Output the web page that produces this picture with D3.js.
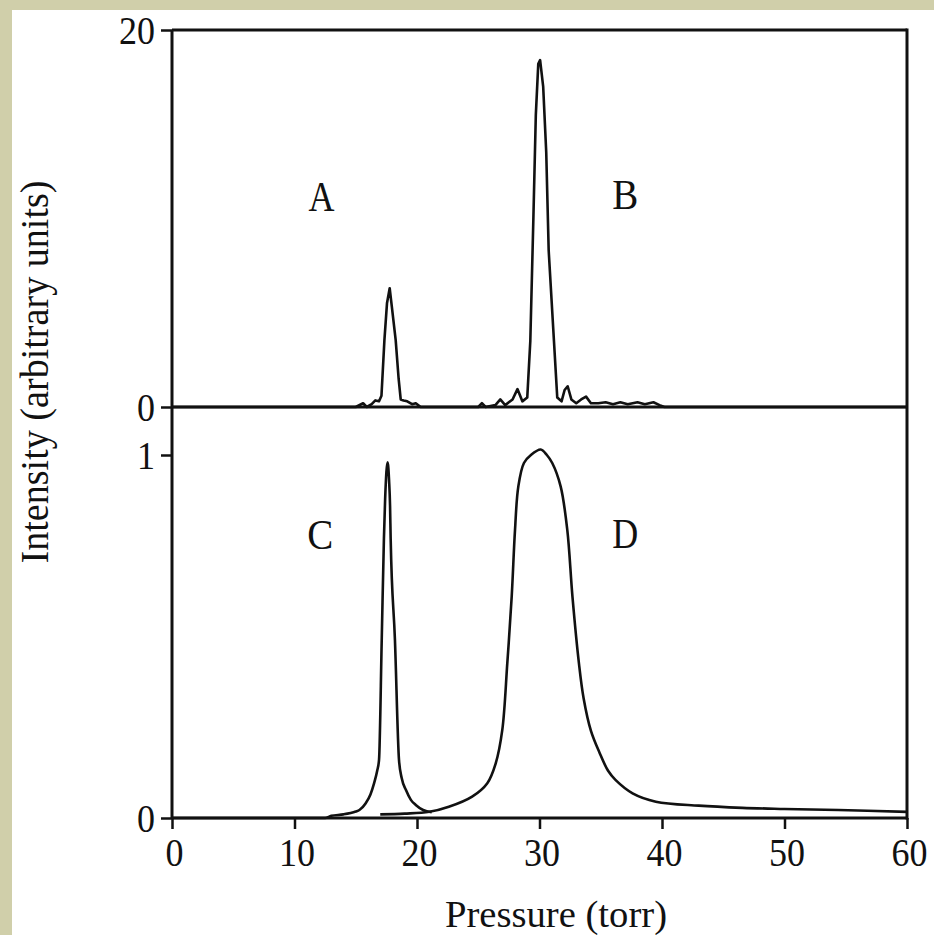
<!DOCTYPE html>
<html><head><meta charset="utf-8">
<script src="https://cdn.jsdelivr.net/npm/d3@7"></script>
<style>html,body{margin:0;padding:0;background:#d0cfaa;}svg{display:block;}</style>
</head><body>
<script>
// ---- data ----
const xTicks = [0, 10, 20, 30, 40, 50, 60];
const topTicks = [0, 20];
const bottomTicks = [0, 1];
const xTitle = "Pressure (torr)";
const yTitle = "Intensity (arbitrary units)";
const panelLabels = ["A", "B", "C", "D"];

// top panel trace (A at ~17.8 torr, B at ~30 torr)
const topPressure = [0, 15.0, 15.6, 15.9, 16.3, 16.6, 16.9, 17.1, 17.34, 17.55, 17.77, 17.95, 18.26, 18.5, 18.67, 18.9, 19.2, 19.6, 19.9, 20.3,
  25.0, 25.3, 25.6, 26.4, 26.8, 27.2, 27.8, 28.2, 28.6, 29.0, 29.25, 29.5, 29.7, 29.9, 30.05, 30.3, 30.55, 30.75, 31.18, 31.45,
  31.8, 32.05, 32.3, 32.6, 33.0, 33.4, 33.8, 34.2, 34.8, 35.4, 36.0, 36.6, 37.2, 38.0, 38.6, 39.3, 39.8, 40.2, 60];
const topIntensity = [0, 0, 0.2, 0, 0.15, 0.35, 0.3, 0.6, 3.55, 5.5, 6.3, 5.3, 3.55, 1.5, 0.4, 0.35, 0.3, 0.15, 0.2, 0,
  0, 0.2, 0, 0.1, 0.4, 0.1, 0.4, 0.95, 0.3, 0.5, 3.5, 10, 15.5, 18.2, 18.4, 17.0, 13.5, 8.3, 3.5, 0.5,
  0.3, 0.9, 1.1, 0.4, 0.2, 0.4, 0.55, 0.2, 0.2, 0.25, 0.15, 0.25, 0.15, 0.25, 0.15, 0.25, 0.1, 0, 0];

// bottom panel trace C (~17.6 torr)
const cPressure = [0, 12.5, 13.0, 14.0, 15.0, 15.3, 15.8, 16.2, 16.5, 16.75, 16.9, 17.12, 17.3, 17.4, 17.6, 17.72, 17.8, 17.85, 18.2, 18.53, 18.75, 19.1, 19.5, 19.9, 20.5, 21.2];
const cIntensity = [0, 0, 0.006, 0.01, 0.018, 0.022, 0.04, 0.065, 0.096, 0.13, 0.16, 0.49, 0.77, 0.88, 0.98, 0.93, 0.86, 0.77, 0.49, 0.16, 0.11, 0.077, 0.05, 0.036, 0.022, 0.016];

// bottom panel trace D (~30 torr)
const dPressure = [17.0, 19.0, 21.0, 22.6, 24.5, 25.74, 26.42, 26.96, 27.37, 27.73, 28.0, 28.27, 28.73, 29.3, 30.1, 30.6, 31.04, 31.73, 32.27, 32.69, 33.22, 33.6, 34.2, 34.9, 35.6, 36.2, 37.6, 39.5, 43.0, 46.56, 50.0, 54.4, 60.0];
const dIntensity = [0.01, 0.012, 0.017, 0.031, 0.059, 0.096, 0.15, 0.242, 0.426, 0.61, 0.793, 0.913, 0.978, 1.0, 1.015, 1.0, 0.978, 0.913, 0.793, 0.61, 0.426, 0.33, 0.24, 0.18, 0.13, 0.105, 0.068, 0.045, 0.034, 0.028, 0.025, 0.022, 0.017];

// ---- drawing ----
const W = 934, H = 935;
const svg = d3.select("body").append("svg").attr("width", W).attr("height", H);
svg.append("rect").attr("x", 0).attr("y", 0).attr("width", W).attr("height", H).attr("fill", "#d0cfaa");
svg.append("rect").attr("x", 12).attr("y", 10).attr("width", W - 12).attr("height", H - 10).attr("fill", "#ffffff");

const x = d3.scaleLinear().domain([0, 60]).range([172, 907]);
const yTop = d3.scaleLinear().domain([0, 20]).range([407, 30]);
const yBot = d3.scaleLinear().domain([0, 1]).range([818, 455]);

const font = "'Liberation Serif', 'Times New Roman', serif";
const ink = "#111";

// traces
const zip = (a, b) => a.map((v, i) => [v, b[i]]);
svg.append("path").datum(zip(topPressure, topIntensity))
  .attr("d", d3.line().x(d => x(d[0])).y(d => yTop(d[1])))
  .attr("fill", "none").attr("stroke", ink).attr("stroke-width", 2.6).attr("stroke-linejoin", "round");
svg.append("path").datum(zip(cPressure, cIntensity))
  .attr("d", d3.line().x(d => x(d[0])).y(d => yBot(d[1])).curve(d3.curveMonotoneX))
  .attr("fill", "none").attr("stroke", ink).attr("stroke-width", 2.6).attr("stroke-linejoin", "round");
svg.append("path").datum(zip(dPressure, dIntensity))
  .attr("d", d3.line().x(d => x(d[0])).y(d => yBot(d[1])).curve(d3.curveCatmullRom.alpha(0.5)))
  .attr("fill", "none").attr("stroke", ink).attr("stroke-width", 2.6).attr("stroke-linejoin", "round");

// frame
const frame = svg.append("g").attr("stroke", ink).attr("stroke-width", 3).attr("fill", "none");
frame.append("line").attr("x1", x(0)).attr("x2", x(0)).attr("y1", yTop(20)).attr("y2", yBot(0));
frame.append("line").attr("x1", x(60)).attr("x2", x(60)).attr("y1", yTop(20) - 1.5).attr("y2", yBot(0) + 1.5);
frame.append("line").attr("x1", x(0)).attr("x2", x(60)).attr("y1", yTop(20)).attr("y2", yTop(20));
frame.append("line").attr("x1", x(0)).attr("x2", x(60)).attr("y1", yTop(0)).attr("y2", yTop(0));
frame.append("line").attr("x1", x(0)).attr("x2", x(60)).attr("y1", yBot(0)).attr("y2", yBot(0));

// x axis
const xAxis = d3.axisBottom(x).tickValues(xTicks).tickSize(11).tickPadding(8).tickFormat(d3.format("d"));
const gx = svg.append("g").attr("transform", `translate(0,${yBot(0)})`).call(xAxis);
gx.select(".domain").remove();
gx.selectAll(".tick line").attr("stroke", ink).attr("stroke-width", 2.5);
gx.selectAll(".tick text").attr("font-family", font).attr("font-size", 41).attr("fill", ink)
  .attr("dy", "0.71em").attr("dx", 2).attr("textLength", 36).attr("lengthAdjust", "spacingAndGlyphs")
  .each(function(d){ if (String(d).length === 1) d3.select(this).attr("textLength", 18); });

// y axes
function yAxisFor(scale, ticks) {
  const ax = d3.axisLeft(scale).tickValues(ticks).tickSize(11).tickPadding(6).tickFormat(d3.format("d"));
  const g = svg.append("g").attr("transform", `translate(${x(0)},0)`).call(ax);
  g.select(".domain").remove();
  g.selectAll(".tick line").attr("stroke", ink).attr("stroke-width", 2.5);
  g.selectAll(".tick text").attr("font-family", font).attr("font-size", 41).attr("fill", ink)
    .attr("dy", "0.33em")
    .each(function(d){ d3.select(this).attr("textLength", String(d).length === 1 ? 18 : 36).attr("lengthAdjust", "spacingAndGlyphs"); });
}
yAxisFor(yTop, topTicks);
yAxisFor(yBot, bottomTicks);

// titles
svg.append("text").attr("x", 556).attr("y", 927).attr("text-anchor", "middle")
  .attr("font-family", font).attr("font-size", 38).attr("fill", ink)
  .attr("textLength", 222).attr("lengthAdjust", "spacingAndGlyphs").text(xTitle);
svg.append("text").attr("transform", "translate(48,372) rotate(-90)").attr("text-anchor", "middle")
  .attr("font-family", font).attr("font-size", 40).attr("fill", ink)
  .attr("textLength", 383).attr("lengthAdjust", "spacingAndGlyphs").text(yTitle);

// panel labels
const labelPos = [[12.2, 10.4, "top"], [37.0, 10.5, "top"], [12.1, 0.74, "bot"], [37.0, 0.745, "bot"]];
panelLabels.forEach((lab, i) => {
  const [px, py, which] = labelPos[i];
  const yy = which === "top" ? yTop(py) : yBot(py);
  svg.append("text").attr("x", x(px)).attr("y", yy).attr("text-anchor", "middle")
    .attr("font-family", font).attr("font-size", 42).attr("fill", ink)
    .attr("textLength", 26).attr("lengthAdjust", "spacingAndGlyphs").text(lab);
});
</script>
</body></html>
